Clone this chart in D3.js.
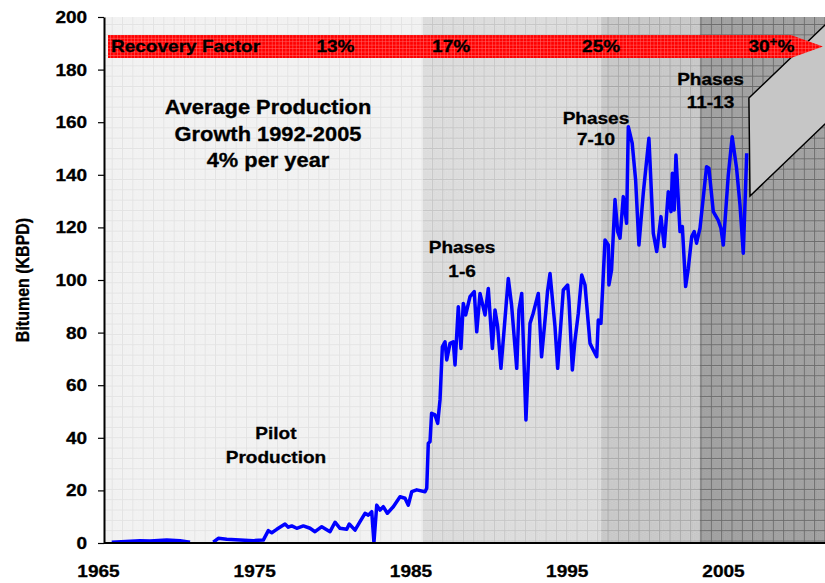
<!DOCTYPE html>
<html>
<head>
<meta charset="utf-8">
<script src="https://cdn.jsdelivr.net/npm/d3@7"></script>
<style>
  body { margin: 0; background: #fff; }
  svg { display: block; font-family: "Liberation Sans", Arial, sans-serif; font-weight: bold; }
</style>
</head>
<body>
<svg id="chart" width="825" height="583"></svg>
<script>
// bitumen production (KBPD); null = gap in the record
const years = [1965.88, 1967.69, 1968.33, 1969.40, 1970.25, 1970.89, 1971.60,
  1972.38, 1972.70, 1973.24, 1974.09, 1974.94, 1975.58, 1975.90, 1976.12, 1976.44, 1976.97,
  1977.18, 1977.40, 1977.72, 1978.14, 1978.57, 1978.89, 1979.32, 1979.85, 1980.17, 1980.49,
  1980.92, 1981.08, 1981.45, 1981.77, 1982.09, 1982.30, 1982.52, 1982.66, 1982.84, 1983.05,
  1983.26, 1983.52, 1983.90, 1984.33, 1984.65, 1984.86, 1985.08, 1985.40, 1985.93, 1986.04,
  1986.14, 1986.25, 1986.35, 1986.57, 1986.74, 1986.89, 1987.04, 1987.21, 1987.32, 1987.53,
  1987.74, 1987.85, 1988.06, 1988.23, 1988.38, 1988.53, 1988.81, 1989.08, 1989.24, 1989.45,
  1989.77, 1989.98, 1990.24, 1990.41, 1990.58, 1990.79, 1991.26, 1991.47, 1991.80, 1991.94,
  1992.12, 1992.39, 1992.65, 1992.85, 1993.18, 1993.39, 1993.65, 1993.77, 1993.93, 1994.25,
  1994.42, 1994.78, 1995.06, 1995.14, 1995.36, 1995.53, 1995.74, 1995.96, 1996.17, 1996.49,
  1996.70, 1996.92, 1997.02, 1997.19, 1997.45, 1997.66, 1997.70, 1997.87, 1998.09, 1998.26,
  1998.41, 1998.62, 1998.83, 1998.94, 1999.19, 1999.41, 1999.62, 1999.90, 2000.26, 2000.54,
  2000.76, 2001.03, 2001.24, 2001.50, 2001.67, 2001.76, 2001.88, 2001.99, 2002.25, 2002.40,
  2002.61, 2002.78, 2003.00, 2003.16, 2003.31, 2003.53, 2003.95, 2004.10, 2004.38, 2004.69,
  2004.87, 2005.02, 2005.34, 2005.59, 2005.87, 2006.09, 2006.30, 2006.52];
const bitumen = [0.3, 0.9, 0.8, 1.1, 0.9, 0.3, null,
  0.3, 1.8, 1.4, 1.1, 0.9, 1.1, 4.7, 3.9, 5.2, 7.2,
  6.0, 6.5, 5.6, 6.5, 5.6, 4.3, 6.2, 4.3, 7.9, 5.6,
  5.2, 7.2, 4.9, 8.1, 11.3, 10.6, 11.9, 0.1, 14.4, 12.5,
  13.8, 11.3, 13.8, 17.6, 17.0, 14.4, 19.5, 20.2, 19.5, 20.8,
  37.9, 38.5, 49.3, 48.7, 45.5, 54.4, 74.6, 76.5, 69.6, 75.9,
  76.5, 67.7, 89.8, 74.0, 91.1, 86.7, 93.7, 95.6, 80.3, 94.9,
  86.7, 96.8, 74.0, 88.6, 82.2, 66.4, 100.6, 90.5, 66.4, 88.6,
  94.9, 46.8, 83.5, 87.3, 94.9, 70.8, 87.3, 95.6, 102.5, 82.2,
  66.4, 96.2, 98.1, 92.4, 65.8, 77.2, 87.3, 101.9, 98.1, 75.9,
  73.4, 70.8, 84.8, 83.5, 115.2, 113.3, 98.1, 103.8, 130.6, 118.4,
  115.9, 131.7, 121.6, 158.3, 152.0, 138.0, 113.3, 133.0, 153.9, 117.8,
  110.8, 124.1, 112.7, 133.6, 126.0, 140.6, 126.6, 147.5, 118.4, 120.3,
  97.5, 104.4, 116.5, 118.4, 114.0, 119.7, 143.1, 142.5, 126.0, 122.8,
  119.7, 113.3, 139.9, 154.5, 142.5, 128.5, 110.2, 148.2];

const yTicks = [0, 20, 40, 60, 80, 100, 120, 140, 160, 180, 200];
const xTickYears = [1965, 1975, 1985, 1995, 2005];

// development phases (start of each shaded band)
const phaseStarts = [1985.8, 1997.2, 2003.5];

// recovery factor banner
const recoveryLabels = ['13%', '17%', '25%', '30'];
const recoveryYears = [1980.2, 1987.6, 1997.2, 2008.1];

const width = 825, height = 583;
const SX = 1.12; // text in the original is a bit wide

const svg = d3.select('#chart');
const x = d3.scaleLinear().domain([1965, 2011.53]).range([98, 825]);
const y = d3.scaleLinear().domain([0, 200]).range([543, 17]);
const plotLeft = 104;

const defs = svg.append('defs');
const cell = 10.33;
const bandStyles = [
  { base: '#f3f3f3', line: '#e3e3e3', dot: '#efefef' },
  { base: '#e0e0e0', line: '#c6c6c6', dot: '#d4d4d4' },
  { base: '#cdcdcd', line: '#a8a8a8', dot: '#bdbdbd' },
  { base: '#a6a6a6', line: '#6c6c6c', dot: '#969696' }
];
bandStyles.forEach((s, i) => {
  const p = defs.append('pattern').attr('id', 'band' + i)
    .attr('patternUnits', 'userSpaceOnUse')
    .attr('width', cell).attr('height', cell)
    .attr('x', 8.4).attr('y', 3.4);
  p.append('rect').attr('width', cell).attr('height', cell).attr('fill', s.base);
  for (let a = 2; a < cell - 1; a += 2) {
    for (let b = 2 + (a % 4 === 0 ? 1 : 0); b < cell - 1; b += 2) {
      p.append('rect').attr('x', a).attr('y', b).attr('width', 1).attr('height', 1).attr('fill', s.dot);
    }
  }
  p.append('path').attr('d', `M0,0.5H${cell}M0.5,0V${cell}`)
    .attr('stroke', s.line).attr('stroke-width', 1).attr('fill', 'none');
});

const rp = defs.append('pattern').attr('id', 'redfill')
  .attr('patternUnits', 'userSpaceOnUse').attr('width', 3.44).attr('height', 3.44);
rp.append('rect').attr('width', 3.44).attr('height', 3.44).attr('fill', '#ff0000');
rp.append('path').attr('d', 'M0,0.3H3.44M0.3,0V3.44')
  .attr('stroke', '#ff6a6a').attr('stroke-width', 0.6);

defs.append('clipPath').attr('id', 'plotclip')
  .append('rect').attr('x', plotLeft).attr('y', y(200))
  .attr('width', width - plotLeft).attr('height', y(0) - y(200));

// shaded bands
const edges = [x.invert(plotLeft)].concat(phaseStarts, [x.domain()[1]]);
svg.append('g').selectAll('rect')
  .data(d3.range(edges.length - 1))
  .join('rect')
  .attr('x', i => x(edges[i]))
  .attr('y', y(200))
  .attr('width', i => x(edges[i + 1]) - x(edges[i]))
  .attr('height', y(0) - y(200))
  .attr('fill', i => `url(#band${i})`);

const plot = svg.append('g').attr('clip-path', 'url(#plotclip)');

// future growth block
const future = [[2006.66, 169.2], [2012.17, 200.6], [2012.17, 163.0], [2006.73, 131.9]];
plot.append('path')
  .attr('d', d3.line().x(d => x(d[0])).y(d => y(d[1]))(future) + 'Z')
  .attr('fill', '#c6c6c6').attr('stroke', '#000').attr('stroke-width', 1.5);

// recovery factor arrow
const banner = [[1965.64, 193.2], [2009.35, 193.2], [2011.4, 188.8], [2009.35, 184.4], [1965.64, 184.4]];
svg.append('path')
  .attr('d', d3.line().x(d => x(d[0])).y(d => y(d[1]))(banner) + 'Z')
  .attr('fill', 'url(#redfill)');

function label(g, px, py, str, size, anchor) {
  return g.append('text')
    .attr('transform', `translate(${px},${py}) scale(${SX},1)`)
    .attr('text-anchor', anchor || 'middle')
    .style('font-size', size + 'px')
    .attr('fill', '#000')
    .attr('stroke', '#000').attr('stroke-width', 0.3)
    .text(str);
}

const notes = svg.append('g');
label(notes, x(1965.83), y(186.7), 'Recovery Factor', 17, 'start');
recoveryLabels.forEach((t, i) => {
  const tx = label(notes, x(recoveryYears[i]), y(186.7), t, 17);
  if (t === '30') {
    tx.append('tspan').attr('dy', -6).style('font-size', '12px').text('+');
    tx.append('tspan').attr('dy', 6).text('%');
  }
});

label(notes, x(1975.88), y(163.1), 'Average Production', 19.5);
label(notes, x(1975.88), y(152.9), 'Growth 1992-2005', 19.5);
label(notes, x(1975.88), y(143.0), '4% per year', 19.5);
label(notes, x(1976.39), y(39.5), 'Pilot', 17);
label(notes, x(1976.39), y(30.4), 'Production', 17);
label(notes, x(1988.3), y(110.3), 'Phases', 17);
label(notes, x(1988.3), y(101.1), '1-6', 17);
label(notes, x(1996.87), y(159.3), 'Phases', 17);
label(notes, x(1996.87), y(151.3), '7-10', 17);
label(notes, x(2004.2), y(174.1), 'Phases', 17);
label(notes, x(2004.2), y(165.5), '11-13', 17);

// production line
const line = d3.line()
  .defined((d, i) => bitumen[i] !== null)
  .x((d, i) => x(years[i]))
  .y((d, i) => y(bitumen[i]));
plot.append('path')
  .attr('d', line(years))
  .attr('fill', 'none')
  .attr('stroke', '#0000ff')
  .attr('stroke-width', 3.5)
  .attr('stroke-linejoin', 'round');

// axes
const yAxis = svg.append('g')
  .attr('transform', `translate(${plotLeft},0)`)
  .call(d3.axisLeft(y).tickValues(yTicks).tickSize(6).tickSizeOuter(0).tickPadding(9));
yAxis.select('.domain').attr('stroke', '#000').attr('stroke-width', 2);
yAxis.selectAll('.tick line').attr('stroke', '#000').attr('stroke-width', 1.2);
yAxis.selectAll('text').style('font-size', '17px').attr('font-family', null)
  .attr('transform', `scale(${SX},1)`);

const xAxis = svg.append('g')
  .attr('transform', `translate(0,${y(0)})`)
  .call(d3.axisBottom(x).tickValues(xTickYears).tickFormat(d3.format('d'))
    .tickSize(0).tickSizeOuter(0).tickPadding(22));
xAxis.select('.domain').attr('d', `M${plotLeft},0H${width}`)
  .attr('stroke', '#000').attr('stroke-width', 2);
xAxis.selectAll('text').style('font-size', '17px').attr('font-family', null)
  .attr('transform', `scale(${SX},1)`);
svg.selectAll('.tick text').attr('fill', '#000')
  .attr('stroke', '#000').attr('stroke-width', 0.3);

svg.append('text')
  .attr('transform', `translate(29,280) scale(${SX},1) rotate(-90)`)
  .attr('text-anchor', 'middle')
  .style('font-size', '16px')
  .attr('stroke', '#000').attr('stroke-width', 0.3)
  .text('Bitumen (KBPD)');
</script>
</body>
</html>
